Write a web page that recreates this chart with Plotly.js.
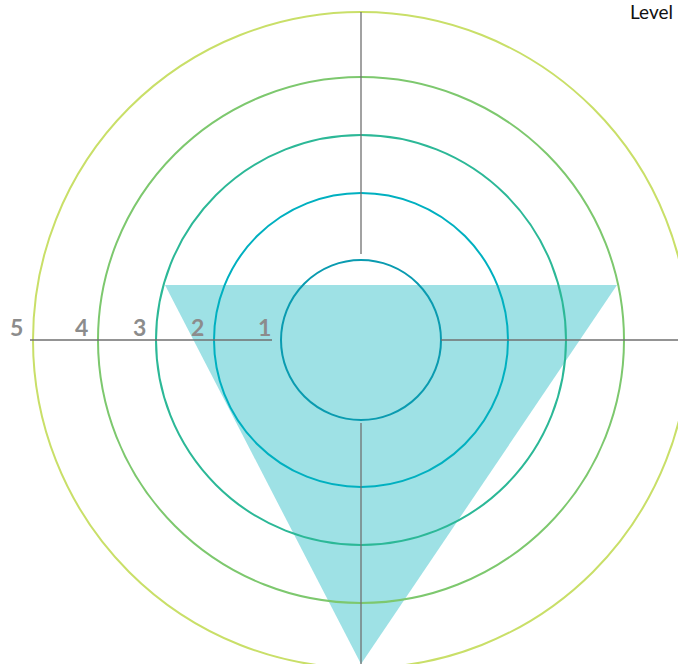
<!DOCTYPE html>
<html>
<head>
<meta charset="utf-8">
<script src="https://cdn.plot.ly/plotly-3.0.1.min.js"></script>
<style>html,body{margin:0;padding:0;background:#fff;}#chart{width:678px;height:664px;}</style>
</head>
<body>
<div id="chart"></div>
<script>
// Levels and their ring radii (chart units)
const levels = ["1", "2", "3", "4", "5"];
const ringRadius = [80, 147, 205, 263, 328];
const ringColors = ["#0a9bb0", "#00b0c0", "#2cb897", "#7dc86e", "#c9df68"];

// Triangle (area) vertices
const areaX = [-196, 256, 0];
const areaY = [55, 55, -324];

// Axis segments [start, end]
const axisLeft = [-331, -89];
const axisRight = [80, 317];
const axisTop = [86, 328];
const axisBottom = [-83, -324];

const traces = [{
  type: "scatter",
  mode: "lines",
  x: areaX.concat([areaX[0]]),
  y: areaY.concat([areaY[0]]),
  fill: "toself",
  fillcolor: "#9ee1e5",
  line: {width: 0, color: "#9ee1e5"},
  hoverinfo: "skip",
  showlegend: false
}];

const shapes = [];
ringRadius.forEach((r, i) => {
  shapes.push({type: "circle", xref: "x", yref: "y", x0: -r, x1: r, y0: -r, y1: r,
    line: {color: ringColors[i], width: 2}, layer: "above"});
});
const axisColor = "#707070";
shapes.push({type: "line", xref: "x", yref: "y", x0: axisLeft[0], x1: axisLeft[1], y0: 0, y1: 0, line: {color: axisColor, width: 1.3}, layer: "above"});
shapes.push({type: "line", xref: "x", yref: "y", x0: axisRight[0], x1: axisRight[1], y0: 0, y1: 0, line: {color: axisColor, width: 1.3}, layer: "above"});
shapes.push({type: "line", xref: "x", yref: "y", x0: 0, x1: 0, y0: axisTop[0], y1: axisTop[1], line: {color: axisColor, width: 1.3}, layer: "above"});
shapes.push({type: "line", xref: "x", yref: "y", x0: 0, x1: 0, y0: axisBottom[0], y1: axisBottom[1], line: {color: axisColor, width: 1.3}, layer: "above"});

const annotations = levels.map((lab, i) => ({
  x: -ringRadius[i] - 17, y: 13, xref: "x", yref: "y",
  text: lab, showarrow: false, xanchor: "center", yanchor: "middle",
  font: {family: "Lato, sans-serif", size: 23, color: "#8c8c8c", weight: 700}
}));
annotations.push({
  x: 1, y: 1, xref: "paper", yref: "paper", xanchor: "right", yanchor: "top",
  xshift: -3, yshift: 2,
  text: "Level", showarrow: false,
  font: {family: "Lato, sans-serif", size: 19, color: "#111"}
});

const layout = {
  width: 678, height: 664,
  margin: {l: 0, r: 0, t: 0, b: 0},
  paper_bgcolor: "#fff", plot_bgcolor: "#fff",
  xaxis: {range: [-361, 317], visible: false, fixedrange: true},
  yaxis: {range: [-324, 340], visible: false, fixedrange: true},
  shapes: shapes,
  annotations: annotations,
  showlegend: false
};

Plotly.newPlot("chart", traces, layout, {displayModeBar: false, staticPlot: true});
</script>
</body>
</html>
